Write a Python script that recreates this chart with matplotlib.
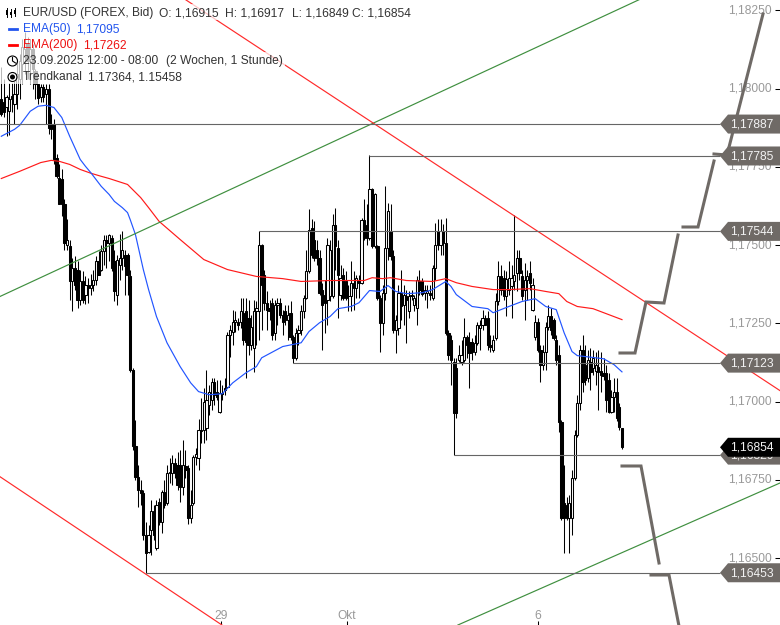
"""
EUR/USD hourly candles with EMAs, trend channel, price levels and projected path.
Prices are kept as 1e-5 offsets from 1.0 (17887 means 1,17887).
"""

import matplotlib
matplotlib.use("Agg")
import matplotlib.pyplot as plt
import numpy as np

plt.rcParams["font.family"] = ["Liberation Sans", "DejaVu Sans"]

OPENS = [
    17966, 17956, 17940, 17928, 17976, 17950, 17982, 18030, 18078, 18126,
    18142, 18094, 18126, 18056, 18014, 17972, 18004, 17982, 17998, 17886,
    17886, 17780, 17716, 17710, 17630, 17502, 17496, 17384, 17428, 17422,
    17326, 17384, 17342, 17374, 17364, 17374, 17390, 17448, 17422, 17480,
    17518, 17508, 17524, 17448, 17342, 17438, 17460, 17470, 17470, 17400,
    17102, 16859, 16760, 16718, 16708, 16574, 16520, 16590, 16651, 16532,
    16680, 16616, 16712, 16676, 16772, 16772, 16804, 16798, 16798, 16728,
    16795, 16788, 16628, 16676, 16824, 16820, 16910, 16910, 16916, 16990,
    17006, 17064, 17032, 16968, 17028, 17044, 17048, 17214, 17224, 17256,
    17256, 17256, 17284, 17288, 17268, 17182, 17172, 17288, 17288, 17499,
    17406, 17316, 17300, 17316, 17220, 17310, 17316, 17278, 17288, 17262,
    17284, 17208, 17140, 17220, 17230, 17288, 17332, 17416, 17556, 17518,
    17486, 17460, 17358, 17342, 17326, 17339, 17339, 17566, 17492, 17342,
    17406, 17384, 17336, 17339, 17380, 17364, 17390, 17380, 17579, 17566,
    17524, 17678, 17496, 17496, 17332, 17252, 17348, 17492, 17544, 17464,
    17230, 17236, 17348, 17310, 17339, 17288, 17339, 17310, 17300, 17387,
    17384, 17348, 17348, 17348, 17332, 17428, 17544, 17502, 17544, 17508,
    17220, 17198, 17128, 17108, 17134, 17128, 17134, 17208, 17192, 17192,
    17160, 17188, 17236, 17246, 17268, 17268, 17182, 17166, 17204, 17320,
    17400, 17396, 17339, 17358, 17368, 17384, 17412, 17460, 17400, 17358,
    17390, 17412, 17294, 17208, 17256, 17166, 17118, 17160, 17240, 17272,
    17262, 17198, 17150, 16936, 16676, 16670, 16628, 16628, 16756, 16894,
    16996, 17166, 17118, 17076, 17128, 17108, 17099, 17112, 17099, 17092,
    17092, 17070, 16968, 17016, 17032, 16984, 16915,
]
HIGHS = [
    18068, 18030, 17979, 18017, 18017, 18024, 18094, 18110, 18158, 18180,
    18164, 18158, 18142, 18062, 18014, 18014, 18014, 18014, 18014, 17918,
    17902, 17790, 17758, 17742, 17646, 17582, 17518, 17460, 17464, 17448,
    17422, 17416, 17403, 17396, 17409, 17422, 17464, 17480, 17502, 17531,
    17534, 17537, 17534, 17486, 17470, 17537, 17544, 17486, 17476, 17422,
    17108, 16942, 16798, 16750, 16718, 16616, 16606, 16686, 16670, 16686,
    16692, 16718, 16750, 16798, 16820, 16830, 16820, 16840, 16846, 16878,
    16846, 16798, 16718, 16830, 16852, 16945, 17012, 17044, 17102, 17054,
    17076, 17076, 17070, 17070, 17054, 17076, 17224, 17246, 17294, 17288,
    17268, 17332, 17332, 17332, 17326, 17278, 17326, 17320, 17544, 17505,
    17422, 17352, 17326, 17332, 17326, 17332, 17332, 17294, 17310, 17310,
    17320, 17214, 17236, 17246, 17310, 17342, 17486, 17617, 17585, 17576,
    17518, 17486, 17380, 17390, 17524, 17518, 17598, 17620, 17518, 17438,
    17428, 17416, 17374, 17448, 17416, 17406, 17406, 17588, 17646, 17630,
    17787, 17684, 17668, 17502, 17342, 17374, 17688, 17636, 17630, 17486,
    17278, 17374, 17422, 17374, 17358, 17352, 17358, 17342, 17400, 17422,
    17396, 17374, 17374, 17374, 17438, 17572, 17582, 17582, 17569, 17588,
    17230, 17214, 17140, 17140, 17182, 17198, 17268, 17214, 17224, 17204,
    17214, 17256, 17262, 17294, 17278, 17288, 17214, 17214, 17348, 17448,
    17438, 17422, 17416, 17448, 17438, 17595, 17486, 17486, 17422, 17444,
    17422, 17448, 17396, 17278, 17268, 17182, 17182, 17256, 17310, 17300,
    17268, 17214, 17182, 16942, 16798, 16696, 16702, 16782, 16910, 17022,
    17182, 17214, 17182, 17166, 17172, 17166, 17160, 17166, 17160, 17140,
    17118, 17092, 17038, 17076, 17076, 16996, 16917,
]
LOWS = [
    17912, 17908, 17848, 17851, 17924, 17886, 17934, 17966, 18014, 18046,
    18030, 18014, 17998, 17966, 17950, 17959, 17959, 17886, 17854, 17838,
    17758, 17716, 17630, 17592, 17486, 17486, 17326, 17288, 17358, 17300,
    17310, 17316, 17313, 17316, 17342, 17352, 17374, 17406, 17416, 17438,
    17428, 17448, 17416, 17320, 17310, 17390, 17422, 17342, 17342, 17096,
    16846, 16750, 16664, 16670, 16558, 16452, 16516, 16510, 16558, 16526,
    16606, 16580, 16660, 16670, 16740, 16734, 16756, 16718, 16680, 16702,
    16756, 16610, 16612, 16670, 16798, 16782, 16868, 16868, 16878, 16958,
    16974, 16990, 17006, 16964, 17006, 17022, 17044, 17144, 17182, 17224,
    17230, 17236, 17182, 17076, 17150, 17166, 17096, 17182, 17198, 17230,
    17294, 17230, 17262, 17198, 17198, 17246, 17268, 17214, 17246, 17198,
    17198, 17124, 17134, 17182, 17214, 17268, 17329, 17412, 17460, 17448,
    17438, 17342, 17166, 17220, 17246, 17320, 17332, 17422, 17268, 17326,
    17326, 17326, 17288, 17288, 17294, 17332, 17332, 17377, 17518, 17502,
    17518, 17492, 17492, 17326, 17160, 17214, 17326, 17454, 17454, 17220,
    17156, 17214, 17262, 17246, 17188, 17268, 17326, 17288, 17246, 17342,
    17336, 17326, 17300, 17326, 17326, 17390, 17486, 17470, 17470, 17214,
    17134, 17054, 16830, 16948, 17128, 17118, 17128, 17140, 17044, 17134,
    17150, 17182, 17166, 17230, 17246, 17166, 17160, 17160, 17198, 17310,
    17342, 17326, 17272, 17342, 17268, 17358, 17352, 17390, 17326, 17262,
    17326, 17358, 17288, 17198, 17160, 17064, 17102, 17102, 17230, 17214,
    17198, 17118, 16904, 16622, 16516, 16622, 16516, 16574, 16750, 16888,
    16974, 17032, 17054, 17064, 17038, 17086, 17054, 16974, 17032, 17070,
    16968, 16964, 16964, 16968, 16939, 16910, 16849,
]
CLOSES = [
    17918, 17924, 17972, 17966, 17966, 17982, 18046, 18088, 18132, 18145,
    18088, 18126, 18062, 18014, 17969, 18004, 17972, 17998, 17876, 17870,
    17774, 17720, 17630, 17630, 17508, 17518, 17384, 17428, 17374, 17326,
    17387, 17326, 17374, 17364, 17374, 17390, 17448, 17406, 17480, 17518,
    17508, 17534, 17428, 17352, 17454, 17460, 17486, 17432, 17406, 17102,
    16859, 16760, 16718, 16708, 16574, 16516, 16574, 16651, 16574, 16670,
    16616, 16712, 16670, 16772, 16776, 16804, 16772, 16734, 16728, 16798,
    16782, 16628, 16670, 16824, 16833, 16910, 16906, 17000, 17006, 17032,
    17064, 17022, 17016, 17028, 17024, 17038, 17214, 17230, 17256, 17262,
    17246, 17288, 17198, 17192, 17182, 17240, 17288, 17300, 17499, 17374,
    17316, 17294, 17288, 17214, 17310, 17316, 17278, 17256, 17262, 17278,
    17208, 17140, 17220, 17230, 17288, 17332, 17416, 17550, 17470, 17460,
    17460, 17348, 17310, 17316, 17499, 17486, 17566, 17496, 17406, 17396,
    17332, 17332, 17339, 17380, 17364, 17396, 17380, 17579, 17524, 17524,
    17678, 17496, 17662, 17332, 17252, 17348, 17492, 17608, 17464, 17230,
    17262, 17348, 17307, 17342, 17326, 17339, 17342, 17332, 17390, 17358,
    17345, 17358, 17352, 17342, 17428, 17502, 17502, 17544, 17508, 17220,
    17150, 17134, 16964, 16964, 17150, 17150, 17208, 17182, 17156, 17160,
    17188, 17246, 17246, 17268, 17246, 17182, 17176, 17198, 17320, 17400,
    17358, 17336, 17393, 17396, 17396, 17406, 17460, 17412, 17336, 17390,
    17400, 17380, 17374, 17256, 17166, 17118, 17160, 17240, 17272, 17230,
    17204, 17134, 16936, 16628, 16628, 16628, 16676, 16756, 16894, 16996,
    17166, 17064, 17070, 17134, 17096, 17140, 17118, 17096, 17086, 17083,
    17006, 16968, 17016, 17032, 16948, 16920, 16854,
]

EMA50_BARS = [0, 5, 7, 11, 14, 17, 20, 23, 26, 30, 32, 34, 38, 41, 43, 46, 48, 49, 51, 54, 56,
              59, 63, 68, 72, 75, 79, 84, 88, 93, 97, 99, 107, 114, 117, 121, 125, 128, 133,
              136, 140, 144, 147, 150, 154, 160, 164, 169, 171, 173, 179, 185, 187, 193, 198,
              203, 207, 211, 214, 217, 219, 229, 233, 236]
EMA50 = [17848, 17870, 17883, 17928, 17944, 17947, 17940, 17908, 17848, 17774, 17752, 17732,
         17688, 17662, 17640, 17620, 17604, 17582, 17534, 17422, 17358, 17272, 17188, 17112,
         17060, 17032, 17022, 17025, 17060, 17092, 17112, 17140, 17176, 17188, 17224, 17252,
         17272, 17297, 17304, 17316, 17355, 17352, 17371, 17352, 17345, 17348, 17358, 17384,
         17368, 17342, 17304, 17297, 17284, 17304, 17320, 17329, 17304, 17294, 17220, 17160,
         17147, 17137, 17118, 17095]
EMA200_BARS = [0, 7, 15, 19, 22, 26, 30, 34, 38, 41, 48, 53, 56, 60, 68, 77, 86, 97, 107, 114,
               125, 138, 141, 145, 148, 154, 164, 169, 173, 179, 187, 193, 201, 207, 212, 215,
               219, 225, 236]
EMA200 = [17713, 17736, 17764, 17771, 17768, 17758, 17742, 17730, 17720, 17713, 17694, 17652,
          17620, 17576, 17518, 17454, 17422, 17400, 17393, 17384, 17387, 17387, 17396, 17393,
          17396, 17387, 17384, 17393, 17380, 17368, 17358, 17358, 17361, 17352, 17345, 17320,
          17304, 17297, 17262]

# trend lines as (bar, price) end points
GREEN_LINES = [((-0.5, 17336), (242.9, 18286)), ((173.6, 16286), (296.1, 16740))]
RED_LINES = [((69.8, 18286), (296.1, 17035)), ((-0.5, 16760), (83.9, 16286))]

# price level, first bar of the level line
LEVELS = [17887, 17785, 17544, 17123, 16829, 16453]
LEVEL_START = [-1, 140, 98, 111, 172, 55]
LAST_PRICE = 16854

Y_TICKS = [18250, 18000, 17750, 17500, 17250, 17000, 16750, 16500]
X_TICKS = [83.5, 131.5, 204]
X_LABELS = ["29", "Okt", "6"]

# projected path, drawn in pixels on the overlay
PATHS_PX = [
    [(620, 353), (635, 353), (646, 302), (664, 303), (678, 235)],
    [(683, 227), (698, 227), (714, 161)],
    [(714, 154), (727, 155), (763, 14)],
    [(622, 466), (641, 466), (659, 563)],
    [(651, 575), (669, 575), (679, 626)],
]

GREY = "#6f6a66"
W, H = 780, 625
BAR_PX = 2.63
BAR0_PX = 1.3
TOP = 18283.5
PX_PER_UNIT = 0.3129


def to_price(values):
    return 1 + np.asarray(values, dtype=float) / 1e5


def price_px(value):
    return (TOP - value) * PX_PER_UNIT


def draw_candles(ax):
    x = np.arange(len(OPENS))
    o, h, l, c = to_price(OPENS), to_price(HIGHS), to_price(LOWS), to_price(CLOSES)
    up = c > o
    ax.vlines(x, l, h, color="black", linewidth=0.75, zorder=2)
    ax.bar(x, np.abs(c - o), bottom=np.minimum(o, c), width=0.85,
           color=np.where(up, "white", "black"), edgecolor="black", linewidth=0.75, zorder=3)


def draw_lines(ax):
    ax.plot(EMA200_BARS, to_price(EMA200), color="#ff1a1a", linewidth=0.85, zorder=4)
    ax.plot(EMA50_BARS, to_price(EMA50), color="#2255ff", linewidth=0.85, zorder=4)
    for (x0, p0), (x1, p1) in GREEN_LINES:
        ax.plot([x0, x1], to_price([p0, p1]), color="#3f8f3f", linewidth=0.85, zorder=4)
    for (x0, p0), (x1, p1) in RED_LINES:
        ax.plot([x0, x1], to_price([p0, p1]), color="#ff2a2a", linewidth=0.85, zorder=4)
    x_end = (720 - BAR0_PX) / BAR_PX
    ax.hlines(to_price(LEVELS), LEVEL_START, x_end, color="#666666", linewidth=0.8, zorder=4)


def price_tag(ui, value, color, zorder):
    y = price_px(value)
    ui.fill([720, 728, 780, 780, 728], [y, y - 9.5, y - 9.5, y + 9.5, y + 9.5],
            color=color, linewidth=0, zorder=zorder)
    text = f"1,{value}"
    ui.text(730, y + 0.3, text, color="#f2f2f2", fontsize=8.64, va="center", zorder=zorder + 0.5)


def draw_legend(ui):
    rows = [(412, 4), (120, 20), (128, 36), (285, 52), (183, 68)]
    for right, top in rows:
        ui.fill([0, right, right, 0], [top, top, top + 16, top + 16],
                color="white", alpha=0.72, linewidth=0, zorder=1)

    dark = "#333333"
    red = "#ee1111"
    blue = "#2255ee"
    items = [
        (23, 13.3, "EUR/USD (FOREX, Bid)", dark),
        (159, 13.3, "O: 1,16915", dark),
        (225, 13.3, "H: 1,16917", dark),
        (292, 13.3, "L: 1,16849", dark),
        (352, 13.3, "C: 1,16854", dark),
        (23, 29.3, "EMA(50)", blue),
        (76, 29.3, "1,17095", blue),
        (23, 45.3, "EMA(200)", red),
        (83, 45.3, "1,17262", red),
        (23, 61.3, "23.09.2025 12:00 - 08:00", dark),
        (166, 61.3, "(2 Wochen, 1 Stunde)", dark),
        (23, 77.3, "Trendkanal", dark),
        (88, 77.3, "1.17364, 1.15458", dark),
    ]
    for x, y, text, color in items:
        ui.text(x, y, text, color=color, fontsize=8.64, va="center", zorder=2)

    # small icons in front of the rows
    for x, y0, y1, b0, b1 in [(7, 8, 17, 10, 15), (11, 9, 17, 12, 15), (15, 8, 16, 10, 14)]:
        ui.plot([x, x], [y0, y1], color="black", linewidth=0.7, zorder=2)
        ui.fill([x - 1, x + 1, x + 1, x - 1], [b0, b0, b1, b1], color="black", linewidth=0, zorder=2)
    ui.plot([9, 17], [29, 29], color=blue, linewidth=2, zorder=2)
    ui.plot([9, 17], [45, 45], color="#ff0000", linewidth=2, zorder=2)
    ui.add_patch(plt.Circle((12.5, 61), 5, fill=False, color="black", linewidth=0.8, zorder=2))
    ui.plot([12.5, 12.5, 15.5], [57.5, 61, 63], color="black", linewidth=0.8, zorder=2)
    ui.add_patch(plt.Circle((12.5, 77), 4.5, fill=False, color="black", linewidth=0.8, zorder=2))
    ui.add_patch(plt.Circle((12.5, 77), 2.5, color="black", linewidth=0, zorder=2))


def main():
    fig = plt.figure(figsize=(W / 100, H / 100), dpi=100, facecolor="white")
    ax = fig.add_axes([0, 0, 1, 1])
    ax.set_xlim(-BAR0_PX / BAR_PX, (W - BAR0_PX) / BAR_PX)
    ax.set_ylim(to_price(TOP - H / PX_PER_UNIT), to_price(TOP))
    for side in ax.spines.values():
        side.set_visible(False)

    draw_candles(ax)
    draw_lines(ax)

    ax.yaxis.tick_right()
    ax.set_yticks(to_price(Y_TICKS))
    ax.set_yticklabels([f"1,{v}" for v in Y_TICKS], ha="right", va="center")
    ax.tick_params(axis="y", direction="in", length=3.6, width=0.75, pad=-6, labelsize=8.64,
                   labelcolor="#999999", color="black")
    ax.set_xticks(X_TICKS)
    ax.set_xticklabels(X_LABELS)
    ax.tick_params(axis="x", direction="in", length=3, width=0.75, pad=-10.5, labelsize=8.64,
                   labelcolor="#999999", color="black")

    ui = fig.add_axes([0, 0, 1, 1])
    ui.set_xlim(0, W)
    ui.set_ylim(H, 0)
    ui.axis("off")

    draw_legend(ui)
    for path in PATHS_PX:
        xs, ys = zip(*path)
        ui.plot(xs, ys, color=GREY, linewidth=2.2, solid_joinstyle="miter", zorder=5)
    for i, value in enumerate(LEVELS):
        price_tag(ui, value, GREY, 6 + i)
    price_tag(ui, LAST_PRICE, "black", 14)

    fig.savefig("out.png", dpi=100)
    plt.close(fig)


if __name__ == "__main__":
    main()
